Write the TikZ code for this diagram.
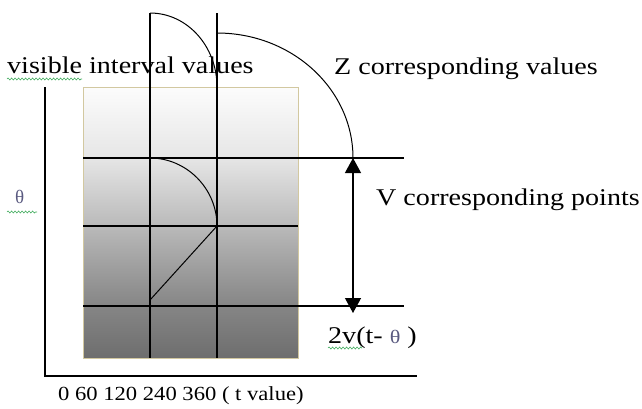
\documentclass[tikz,border=0pt]{standalone}
\usepackage{fontspec}
\setmainfont{Liberation Serif}
\newfontfamily\widefont{Liberation Serif}[FakeStretch=1.17]
\newfontfamily\axfont{Liberation Serif}[FakeStretch=1.13]
\usetikzlibrary{arrows.meta,decorations.pathmorphing}
\definecolor{boxedge}{HTML}{D2C8A0}
\definecolor{squig}{HTML}{3DAA5A}
\definecolor{thetacol}{HTML}{5A5A80}
\definecolor{sA}{HTML}{6E6E6E}
\definecolor{sB}{HTML}{858585}
\definecolor{sC}{HTML}{BABABA}
\definecolor{sD}{HTML}{E6E6E6}
\definecolor{sE}{HTML}{FCFCFC}
\pgfdeclareverticalshading{boxshade}{100bp}{color(0bp)=(sA); color(25bp)=(sA); color(34.5bp)=(sB); color(49.5bp)=(sC); color(62bp)=(sD); color(75bp)=(sE); color(100bp)=(sE)}
\begin{document}
\begin{tikzpicture}[x=1pt,y=-1pt,
  lbl/.style={inner sep=0pt, anchor=base west, font=\widefont\fontsize{24}{28}\selectfont},
  axlbl/.style={inner sep=0pt, anchor=base west, font=\axfont\fontsize{20}{24}\selectfont},
  thetalbl/.style={inner sep=0pt, anchor=base west, text=thetacol, font=\fontsize{19}{23}\selectfont},
  gridline/.style={line width=1.2pt, black},
  curveline/.style={line width=1pt, black},
  squiggle/.style={squig, line width=0.6pt, decorate, decoration={snake, amplitude=1pt, segment length=3.5pt}},
  dimarrow/.style={line width=1.2pt, {Triangle[length=15pt,width=16pt]}-{Triangle[length=15pt,width=16pt]}}]
\useasboundingbox (0,0) rectangle (642,408);
% shaded box
\coordinate (boxTL) at (83,87);
\coordinate (boxBR) at (298,358);
\shade[shading=boxshade] (boxTL) rectangle (boxBR);
\draw[boxedge, line width=1pt] (boxTL) rectangle (boxBR);
% axes
\coordinate (axTop) at (45,87);
\coordinate (axOrig) at (45,376);
\coordinate (axEnd) at (417,376);
\draw[gridline] (axTop) -- (axOrig) -- (axEnd);
% vertical lines
\coordinate (v1top) at (150,13);
\coordinate (v1bot) at (150,358);
\coordinate (v2top) at (217,13);
\coordinate (v2bot) at (217,358);
\draw[gridline] (v1top) -- (v1bot);
\draw[gridline] (v2top) -- (v2bot);
% horizontal lines
\coordinate (h1l) at (83,158);
\coordinate (h1r) at (404,158);
\coordinate (h2l) at (83,226);
\coordinate (h2r) at (298,226);
\coordinate (h3l) at (83,306);
\coordinate (h3r) at (404,306);
\draw[gridline] (h1l) -- (h1r);
\draw[gridline] (h2l) -- (h2r);
\draw[gridline] (h3l) -- (h3r);
% arcs
\coordinate (a1end) at (217,87);
\draw[curveline] (v1top) .. controls (187,13) and (217,46) .. (a1end);
\coordinate (a2start) at (217,33);
\coordinate (a2end) at (353,158);
\draw[curveline] (a2start) .. controls (292,33) and (353,89) .. (a2end);
\coordinate (a3start) at (150,158);
\coordinate (a3end) at (217,226);
\draw[curveline] (a3start) .. controls (186.5,158) and (217,188.5) .. (a3end);
\coordinate (diagLow) at (150,300);
\draw[curveline] (diagLow) -- (a3end);
% dimension arrow
\coordinate (arrTop) at (353,158);
\coordinate (arrBot) at (353,313);
\draw[dimarrow] (arrTop) -- (arrBot);
% labels
\node[lbl] (tVis) at (7,73) {visible interval values};
\node[lbl] (tZ) at (334,74) {Z corresponding values};
\node[lbl] (tV) at (376,205) {V corresponding points};
\node[lbl] (tTwo) at (328,343) {2v(t- {\color{thetacol}\fontsize{19}{22}\selectfont θ} )};
\node[thetalbl] (tTheta) at (15,203) {θ};
\node[axlbl] (tAxis) at (58,400) {0 60 120 240 360 ( t value)};
% spell-check squiggles
\draw[squiggle] (7,79) -- (82,79);
\draw[squiggle] (7,212) -- (37,212);
\draw[squiggle] (328,348) -- (362,348);
\end{tikzpicture}
\end{document}
